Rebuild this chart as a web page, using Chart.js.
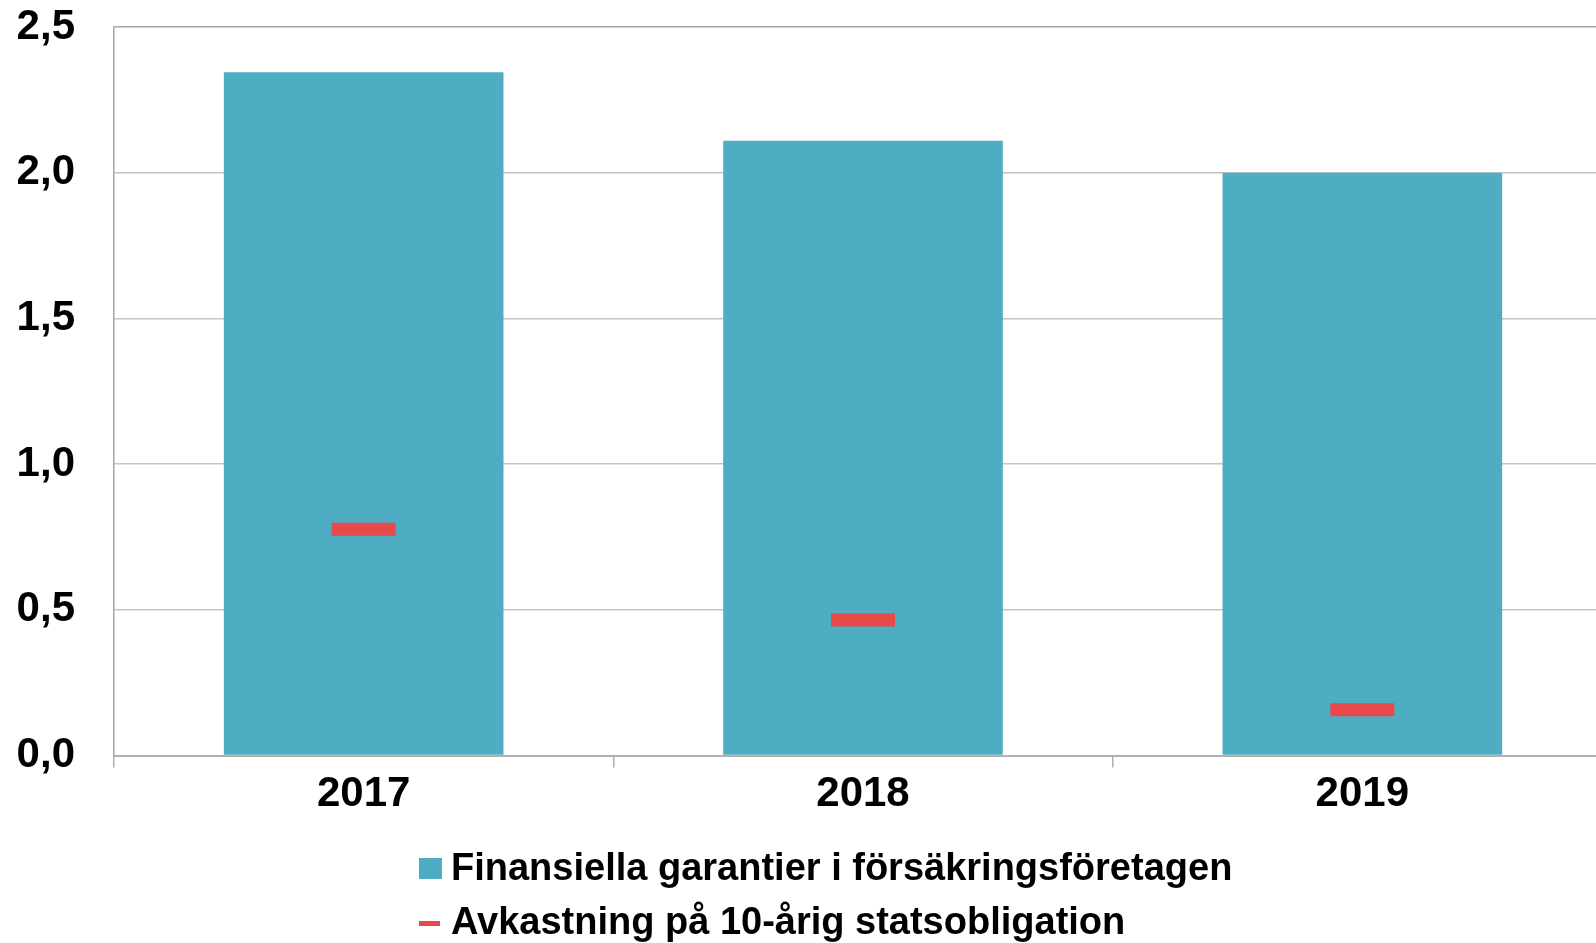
<!DOCTYPE html>
<html>
<head>
<meta charset="utf-8">
<script src="https://cdn.jsdelivr.net/npm/chart.js@4/dist/chart.umd.min.js"></script>
<style>
  html, body { margin: 0; padding: 0; background: #fff; overflow: hidden; width: 1596px; height: 943px; }
  #wrap { position: relative; width: 1596px; height: 943px; }
  #myChart { position: absolute; left: 0; top: 0; }
  #legend { position: absolute; left: 419px; top: 840px; font: bold 38px "Liberation Sans", Arial, sans-serif; color: #000; }
  .item { height: 54px; line-height: 54px; white-space: nowrap; position: relative; padding-left: 32px; }
  .mark { position: absolute; left: 0; }
</style>
</head>
<body>
<div id="wrap">
  <canvas id="myChart" width="1640" height="943"></canvas>
  <div id="legend"></div>
</div>
<script>
const years = ['2017', '2018', '2019'];
const garantier = [2.345, 2.11, 2.0];
const avkastning = [0.777, 0.465, 0.157];
const yTicks = [0, 0.5, 1.0, 1.5, 2.0, 2.5];

const teal = '#4FADC3';
const red = '#E84A4A';
const font = "'Liberation Sans', Arial, sans-serif";

const ctx = document.getElementById('myChart').getContext('2d');
const myChart = new Chart(ctx, {
  data: {
    labels: years,
    datasets: [{
      type: 'line',
      label: 'Avkastning på 10-årig statsobligation',
      data: avkastning,
      showLine: false,
      pointStyle: 'line',
      pointRadius: 32,
      pointHoverRadius: 32,
      pointBorderWidth: 13,
      pointHoverBorderWidth: 13,
      borderColor: red,
      backgroundColor: red,
      order: 0
    }, {
      type: 'bar',
      label: 'Finansiella garantier i försäkringsföretagen',
      data: garantier,
      backgroundColor: teal,
      categoryPercentage: 1,
      barPercentage: 0.56,
      order: 1
    }]
  },
  options: {
    responsive: false,
    animation: false,
    layout: { autoPadding: false, padding: { left: 18, right: 28, top: 27, bottom: 121 } },
    plugins: {
      legend: { display: false },
      tooltip: { enabled: false }
    },
    scales: {
      x: {
        offset: true,
        grid: { offset: true, drawOnChartArea: false, drawTicks: true, tickLength: 12, color: '#b0b0b0', lineWidth: 1.5 },
        border: { color: '#b0b0b0', width: 2 },
        ticks: { color: '#000', padding: 2, font: { family: font, size: 42, weight: 'bold' } }
      },
      y: {
        min: 0,
        max: 2.5,
        afterBuildTicks: (axis) => { axis.ticks = yTicks.map(v => ({ value: v })); },
        // labels sit 39px left of the plot; keep the axis box tight
        afterFit: (axis) => { axis.width = 96; axis.paddingTop = 0; axis.paddingBottom = 0; },
        grid: {
          drawTicks: false,
          color: (c) => c.tick && c.tick.value === 2.5 ? '#a6a6a6' : '#c4c4c4',
          lineWidth: 1.5
        },
        border: { color: '#a6a6a6', width: 1.5 },
        ticks: {
          color: '#000',
          padding: 39,
          font: { family: font, size: 42, weight: 'bold' },
          callback: (v) => Number(v).toFixed(1).replace('.', ',')
        }
      }
    }
  }
});

// legend, one row per series, left-aligned like the original
const legend = document.getElementById('legend');
[myChart.data.datasets[1], myChart.data.datasets[0]].forEach(ds => {
  const row = document.createElement('div');
  row.className = 'item';
  const m = document.createElement('span');
  m.className = 'mark';
  if (ds.type === 'bar') {
    m.style.cssText = 'left:0;top:18px;width:23px;height:21px;background:' + ds.backgroundColor;
  } else {
    m.style.cssText = 'left:0;top:27px;width:21px;height:5px;background:' + ds.borderColor;
  }
  row.appendChild(m);
  row.appendChild(document.createTextNode(ds.label));
  legend.appendChild(row);
});
</script>
</body>
</html>
